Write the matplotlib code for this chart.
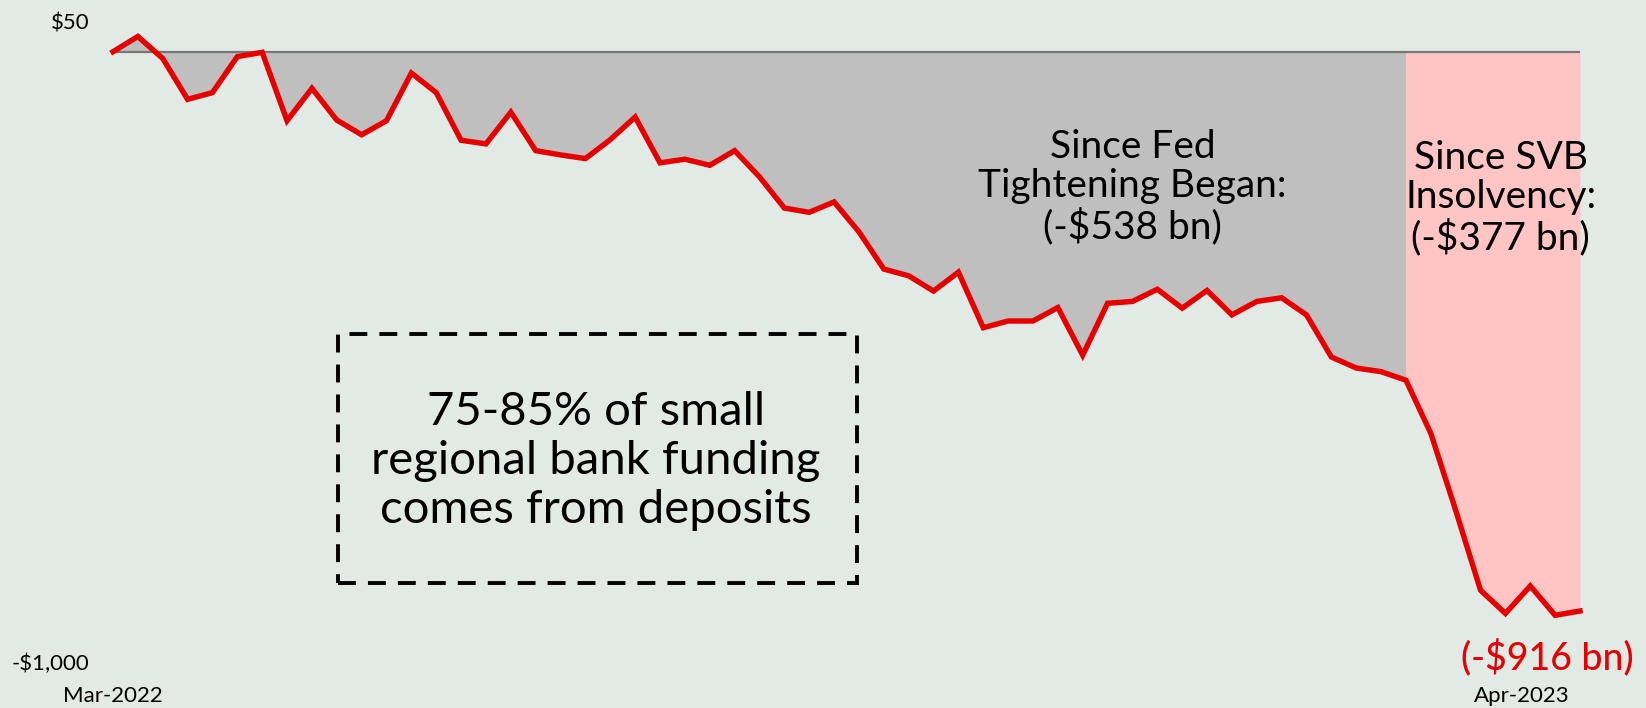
import numpy as np
import pandas as pd
import matplotlib
matplotlib.use("Agg")
import matplotlib.pyplot as plt
from matplotlib.patches import Rectangle
from matplotlib.transforms import ScaledTranslation

plt.rcParams['font.family'] = ['Lato', 'DejaVu Sans']

# cumulative change in small bank deposits since Mar-2022, $ bn (weekly)
dates = pd.date_range("2022-03-09", periods=60, freq="7D")
deposits = np.array([
    0, 25, -11, -78, -67, -8, -1, -113, -60, -112,
    -136, -113, -35, -67, -145, -151, -99, -162, -169, -175,
    -144, -107, -182, -176, -186, -162, -205, -256, -263, -246,
    -295, -356, -367, -392, -361, -452, -441, -441, -419, -497,
    -412, -409, -389, -420, -391, -431, -409, -403, -431, -500,
    -518, -524, -538, -625, -751, -882, -920, -875, -923, -916,
])
svb_idx = 52  # last week before SVB insolvency

ytick_vals = [50, -1000]
ytick_labels = ["$50", "-$1,000"]
xtick_labels = ["Mar-2022", "Apr-2023"]

bg = "#E1EAE5"
red = "#E60000"

fig = plt.figure(figsize=(16.46, 7.08), dpi=100, facecolor=bg)
ax = fig.add_axes([113 / 1646, 1 - 662.3 / 708, 1467 / 1646, 641.1 / 708])
ax.set_facecolor(bg)

ax.fill_between(dates[:svb_idx + 1], deposits[:svb_idx + 1], 0,
                color="#BFBFBF", linewidth=0, zorder=1)
ax.fill_between(dates[svb_idx:], deposits[svb_idx:], 0,
                color="#FFC5C5", linewidth=0, zorder=1)
ax.axhline(0, color="#777777", linewidth=1.6, zorder=2)
ax.plot(dates, deposits, color=red, linewidth=3.9, solid_joinstyle="miter",
        zorder=3, clip_on=False)

ax.set_xlim(dates[0], dates[-1])
ax.set_ylim(-1000, 50)
for s in ax.spines.values():
    s.set_visible(False)

ax.set_yticks(ytick_vals)
ax.set_yticklabels(ytick_labels)
ax.set_xticks([dates[0], dates[-1]])
ax.set_xticklabels(xtick_labels)
ax.tick_params(axis="both", length=0, labelsize=16, colors="black")
ax.tick_params(axis="y", pad=17)
ax.tick_params(axis="x", pad=17)
last = ax.get_xticklabels()[-1]
last.set_ha("right")
last.set_transform(last.get_transform() + ScaledTranslation(-0.1, 0, fig.dpi_scale_trans))

ax.text(0.695, 0.741, "Since Fed\nTightening Began:\n(-$538 bn)", transform=ax.transAxes,
        ha="center", va="center", fontsize=28, linespacing=1.12, zorder=4)
ax.text(0.946, 0.724, "Since SVB\nInsolvency:\n(-$377 bn)", transform=ax.transAxes,
        ha="center", va="center", fontsize=28, linespacing=1.12, zorder=4)
ax.text(0.978, 0.008, "(-$916 bn)", transform=ax.transAxes, color=red,
        ha="center", va="center", fontsize=27, fontweight="medium",
        clip_on=False, zorder=4)

ax.add_patch(Rectangle((0.1534, 0.124), 0.3535, 0.388, transform=ax.transAxes,
                       fill=False, edgecolor="black", linewidth=2.8,
                       linestyle=(0, (4.6, 3.1)), zorder=4))
ax.text(0.3292, 0.314, "75-85% of small\nregional bank funding\ncomes from deposits",
        transform=ax.transAxes, ha="center", va="center", fontsize=34,
        linespacing=1.2, zorder=5)

fig.savefig("out.png", dpi=100, facecolor=bg)
